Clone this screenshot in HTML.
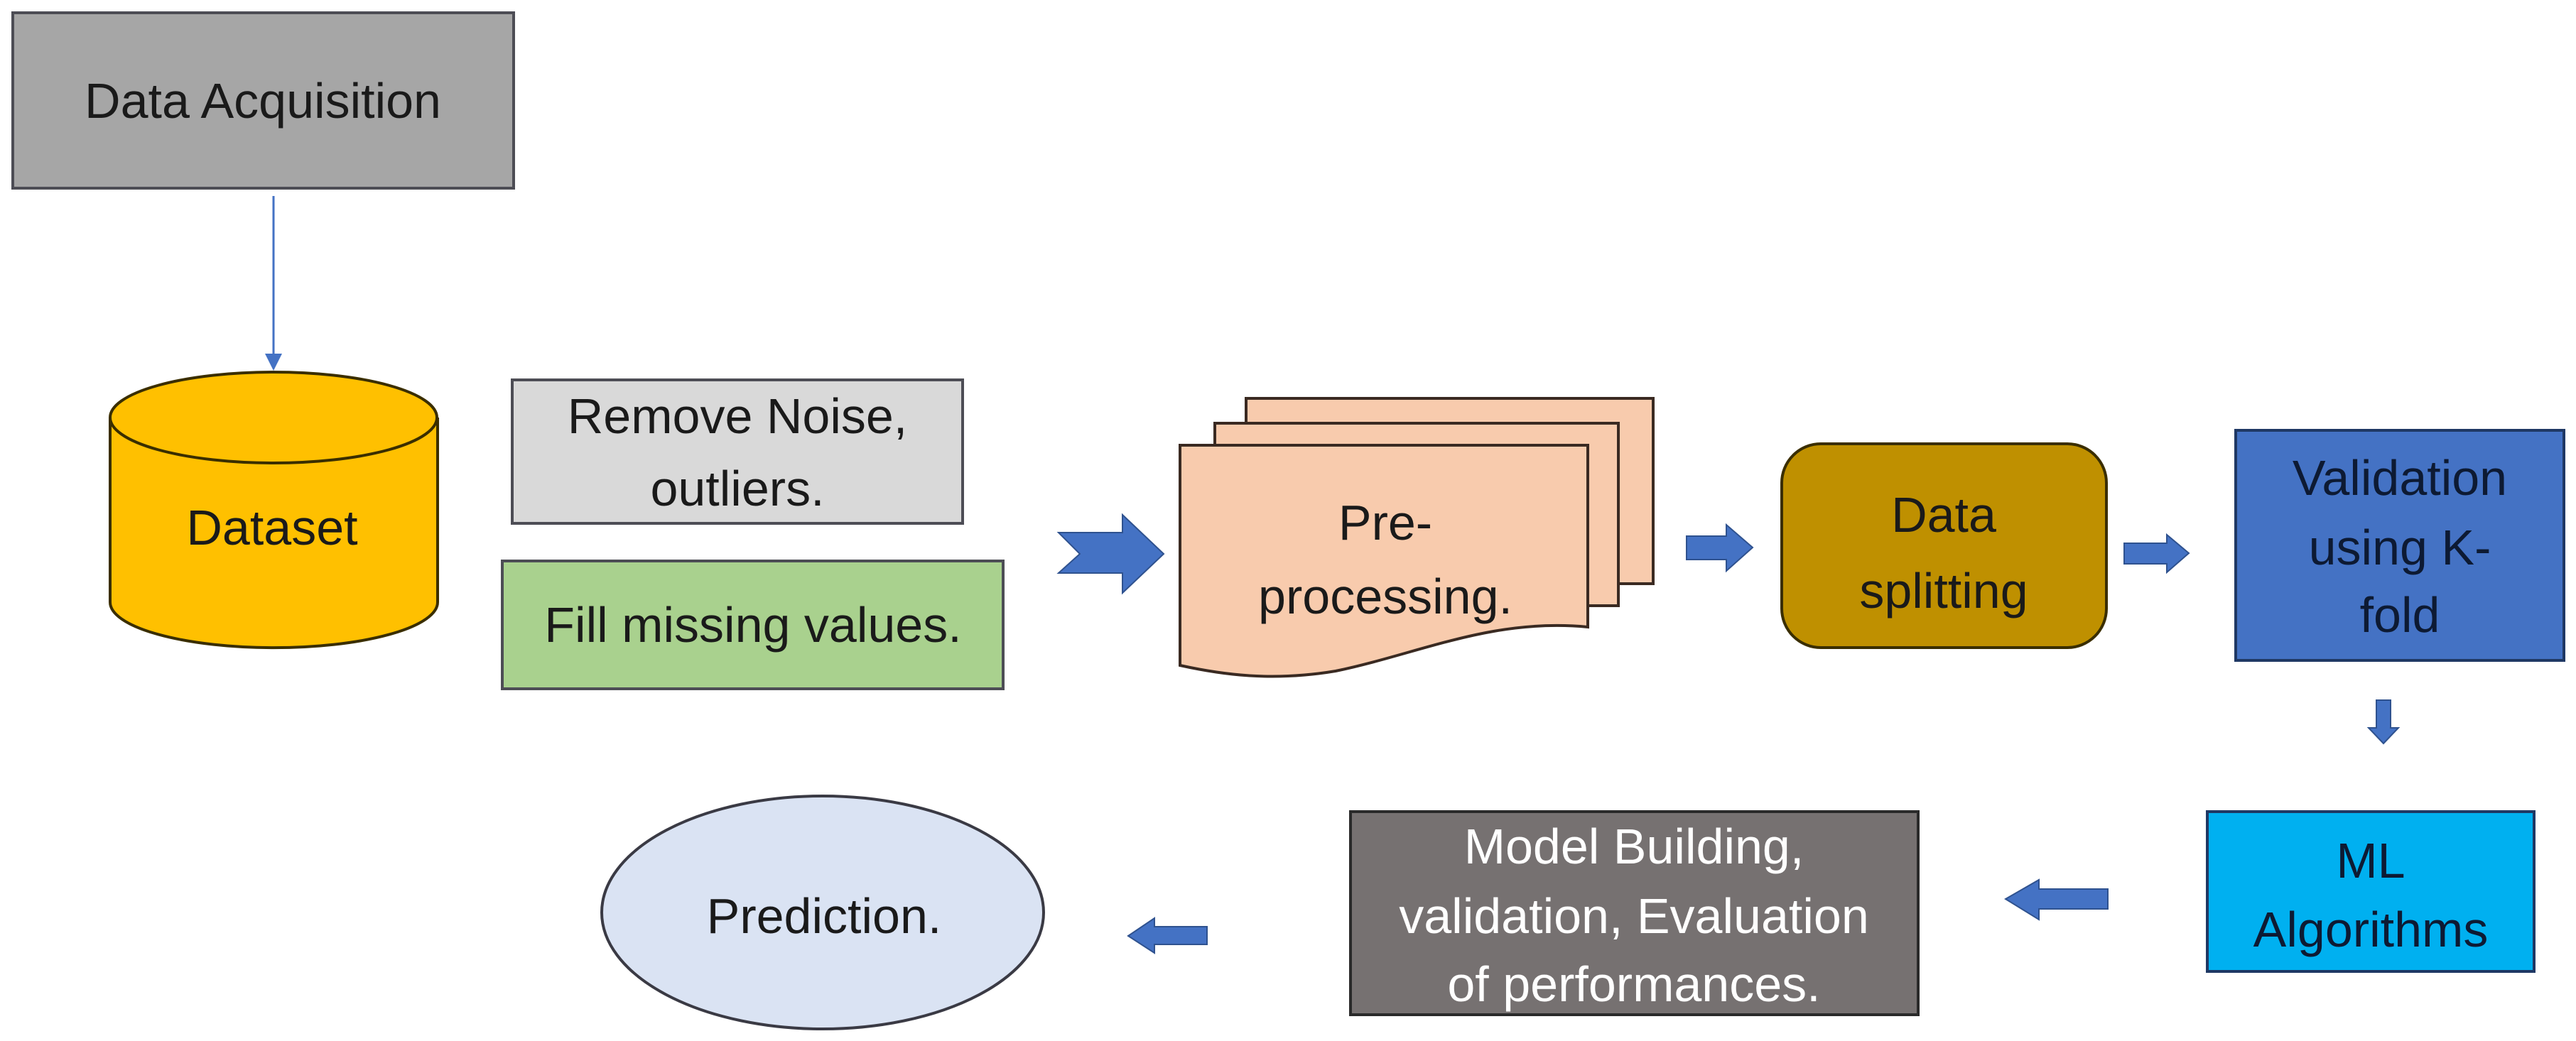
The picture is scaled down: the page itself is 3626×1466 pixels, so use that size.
<!DOCTYPE html>
<html><head><meta charset="utf-8"><style>
html,body{margin:0;padding:0;background:#fff;}
svg{display:block;}
text{font-family:"Liberation Sans",sans-serif;font-size:70px;text-anchor:middle;fill:#1a1a1a;}
</style></head><body>
<svg width="3626" height="1466" viewBox="0 0 3626 1466" xmlns="http://www.w3.org/2000/svg">
<rect x="18" y="18" width="705" height="247" fill="#a6a6a6" stroke="#4d4d55" stroke-width="4"/>
<text x="370" y="166">Data Acquisition</text>
<line x1="385" y1="276" x2="385" y2="500" stroke="#4472c4" stroke-width="3"/>
<polygon points="373,498 397,498 385,522" fill="#4472c4"/>
<path d="M155,588 L155,848 A230,64 0 0 0 616,848 L616,588" fill="#ffc000" stroke="#3a2e00" stroke-width="4"/>
<ellipse cx="385" cy="588" rx="230" ry="64" fill="#ffc000" stroke="#3a2e00" stroke-width="4"/>
<text x="383" y="767">Dataset</text>
<rect x="721" y="535" width="634" height="202" fill="#d9d9d9" stroke="#4d4d55" stroke-width="4"/>
<text x="1038" y="610">Remove  Noise,</text>
<text x="1038" y="712">outliers.</text>
<rect x="707" y="790" width="705" height="180" fill="#a9d18e" stroke="#4d4d55" stroke-width="4"/>
<text x="1060" y="904">Fill missing values.</text>
<polygon points="1490,750 1580,750 1580,725 1638,780 1580,835 1580,807 1490,807 1520,780" fill="#4472c4" stroke="#2f528f" stroke-width="2"/>
<rect x="1754" y="561" width="573" height="261" fill="#f8cbad" stroke="#3a2a22" stroke-width="4"/>
<rect x="1710" y="596" width="568" height="257" fill="#f8cbad" stroke="#3a2a22" stroke-width="4"/>
<path d="M1661,627 L2235,627 L2235,883 C2100,870 2000,920 1880,945 C1790,960 1720,950 1661,937 Z" fill="#f8cbad" stroke="#3a2a22" stroke-width="4"/>
<text x="1950" y="760">Pre-</text>
<text x="1950" y="864">processing.</text>
<polygon points="2374,755 2430,755 2430,739 2467,771 2430,804 2430,788 2374,788" fill="#4472c4" stroke="#2f528f" stroke-width="2"/>
<rect x="2508" y="625" width="457" height="287" rx="55" ry="55" fill="#bf9000" stroke="#3a2e00" stroke-width="4"/>
<text x="2736" y="749">Data</text>
<text x="2736" y="856">splitting</text>
<polygon points="2990,765 3050,765 3050,753 3081,779 3050,806 3050,794 2990,794" fill="#4472c4" stroke="#2f528f" stroke-width="2"/>
<rect x="3147" y="606" width="462" height="324" fill="#4472c4" stroke="#1f3864" stroke-width="4"/>
<text x="3378" y="697" style="fill:#0d1a33">Validation</text>
<text x="3378" y="795" style="fill:#0d1a33">using K-</text>
<text x="3378" y="890" style="fill:#0d1a33">fold</text>
<polygon points="3345,986 3365,986 3365,1025 3376,1025 3355,1047 3334,1025 3345,1025" fill="#4472c4" stroke="#2f528f" stroke-width="2"/>
<rect x="3107" y="1143" width="460" height="225" fill="#00b0f0" stroke="#1f3864" stroke-width="4"/>
<text x="3337" y="1236" style="fill:#0d1a33">ML</text>
<text x="3337" y="1333" style="fill:#0d1a33">Algorithms</text>
<polygon points="2967,1252 2870,1252 2870,1239 2823,1266 2870,1295 2870,1280 2967,1280" fill="#4472c4" stroke="#2f528f" stroke-width="2"/>
<rect x="1901" y="1143" width="799" height="286" fill="#767171" stroke="#2a2a2a" stroke-width="4"/>
<text x="2300" y="1216" style="fill:#fff">Model Building,</text>
<text x="2300" y="1314" style="fill:#fff">validation, Evaluation</text>
<text x="2300" y="1410" style="fill:#fff">of performances.</text>
<polygon points="1699,1305 1625,1305 1625,1293 1588,1318 1625,1342 1625,1330 1699,1330" fill="#4472c4" stroke="#2f528f" stroke-width="2"/>
<ellipse cx="1158" cy="1285" rx="311" ry="164" fill="#dae3f3" stroke="#3a3a44" stroke-width="4"/>
<text x="1160" y="1314">Prediction.</text>
</svg>
</body></html>
